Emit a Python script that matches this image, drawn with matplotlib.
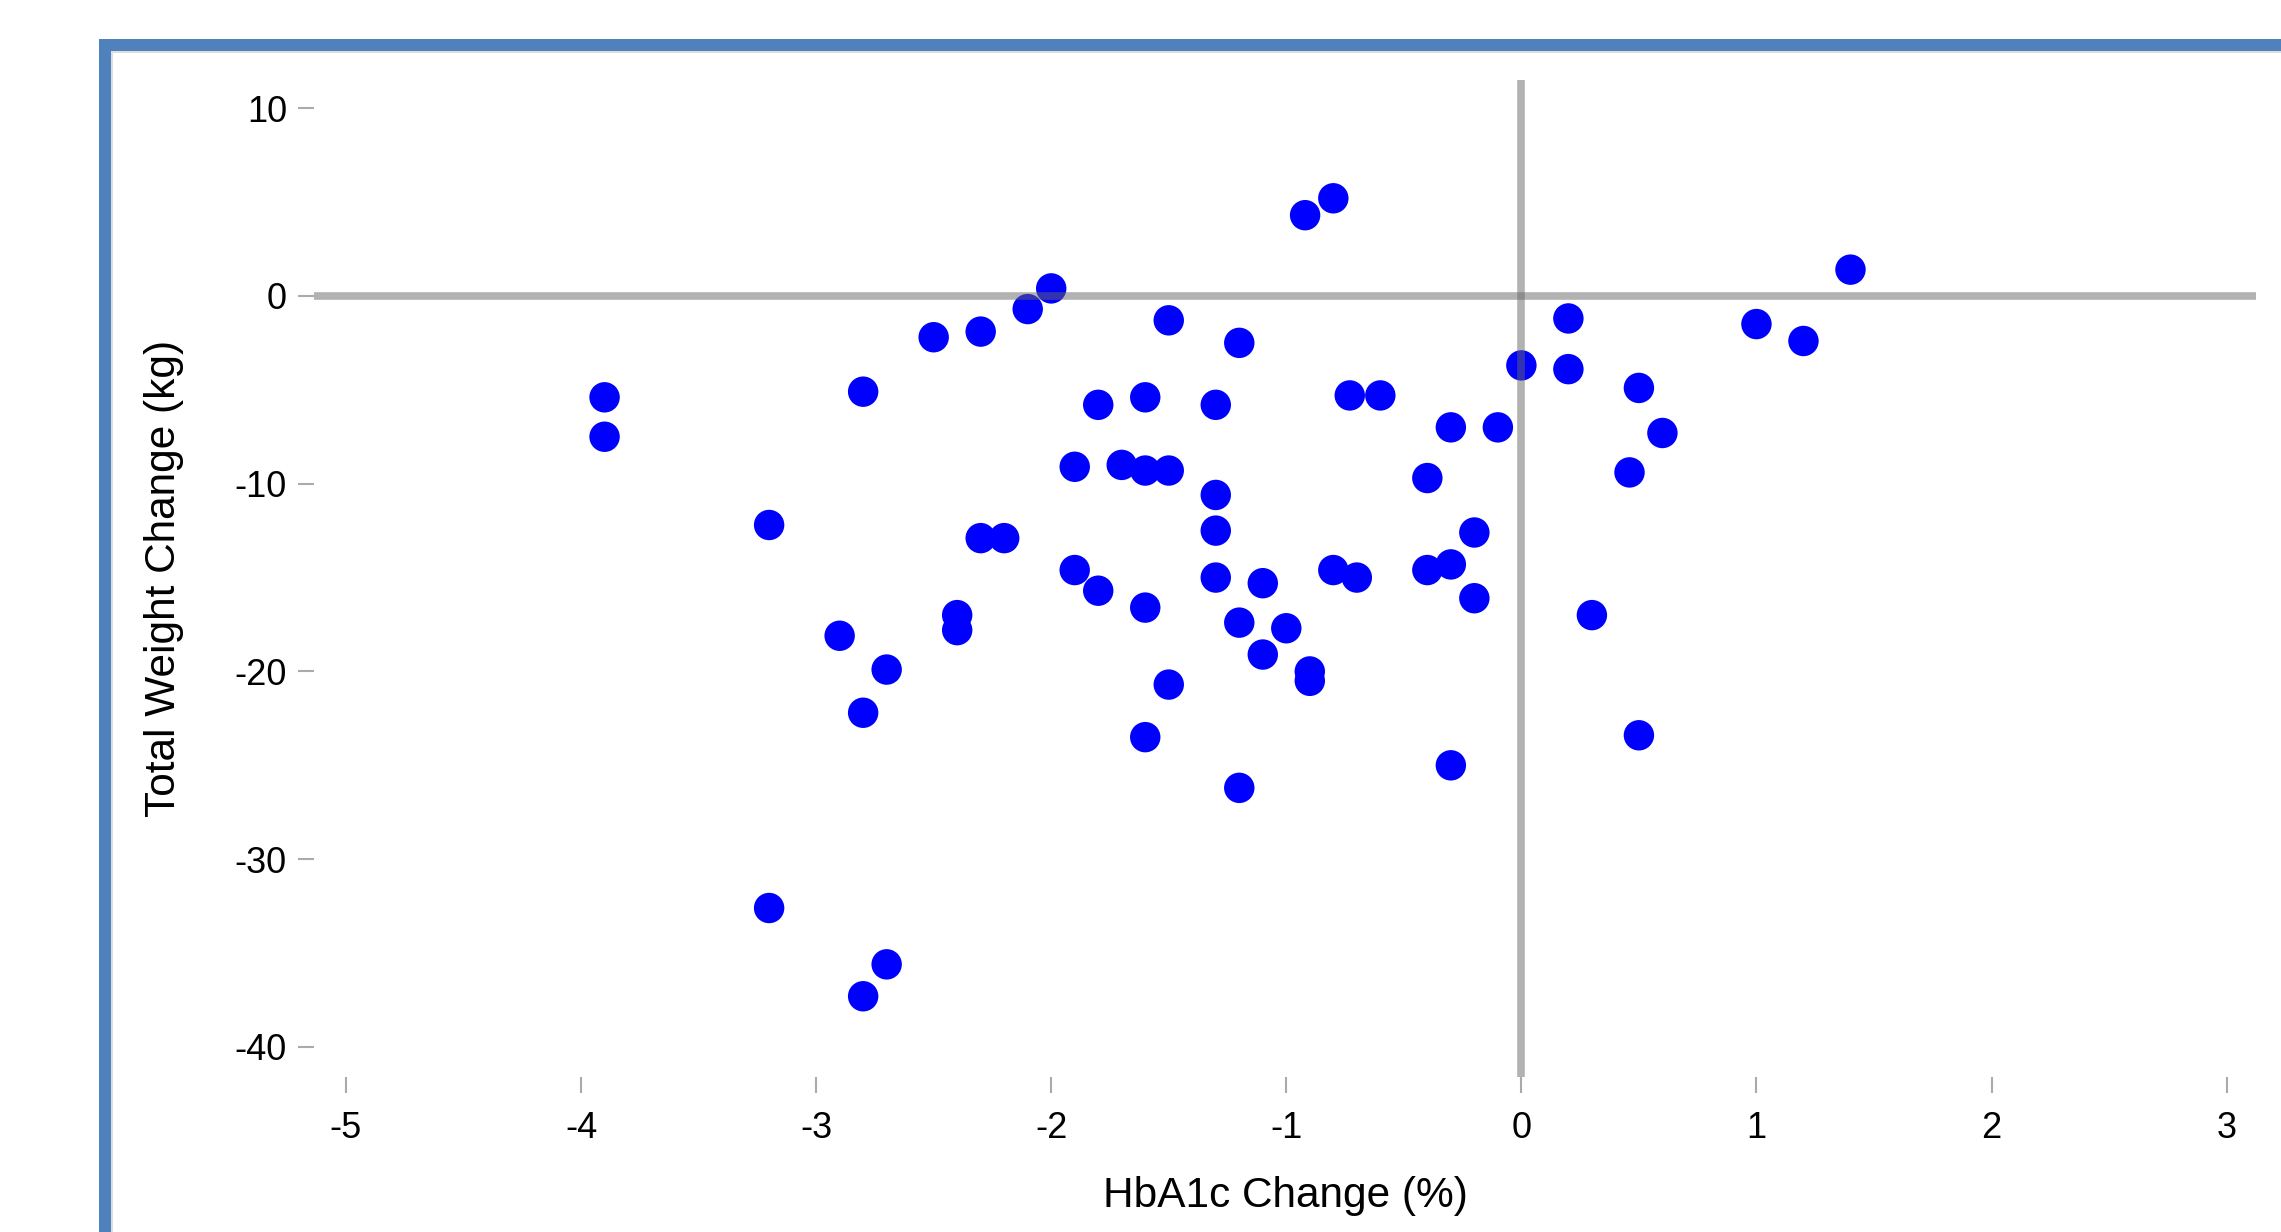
import matplotlib.pyplot as plt
from matplotlib.patches import Rectangle

# HbA1c change (%) vs total weight change (kg)
hba1c_change = [
    -3.9, -3.9, -3.2, -3.2, -2.9, -2.8, -2.8, -2.8, -2.7, -2.7,
    -2.5, -2.4, -2.4, -2.3, -2.3, -2.2, -2.1, -2.0, -1.9, -1.9,
    -1.8, -1.8, -1.7, -1.6, -1.6, -1.6, -1.6, -1.5, -1.5, -1.5,
    -1.3, -1.3, -1.3, -1.3, -1.2, -1.2, -1.2, -1.1, -1.1, -1.0,
    -0.92, -0.8, -0.9, -0.9, -0.8, -0.73, -0.7, -0.6, -0.4, -0.4,
    -0.3, -0.3, -0.3, -0.2, -0.2, -0.1, 0.0, 0.2, 0.2, 0.3,
    0.46, 0.5, 0.5, 0.6, 1.0, 1.2, 1.4,
]
weight_change = [
    -5.4, -7.5, -12.2, -32.6, -18.1, -5.1, -22.2, -37.3, -19.9, -35.6,
    -2.2, -17.0, -17.8, -1.9, -12.9, -12.9, -0.7, 0.4, -9.1, -14.6,
    -5.8, -15.7, -9.0, -5.4, -9.3, -16.6, -23.5, -1.3, -9.3, -20.7,
    -5.8, -10.6, -12.5, -15.0, -2.5, -17.4, -26.2, -15.3, -19.1, -17.7,
    4.3, 5.2, -20.0, -20.5, -14.6, -5.3, -15.0, -5.3, -9.7, -14.6,
    -7.0, -14.3, -25.0, -12.6, -16.1, -7.0, -3.7, -1.2, -3.9, -17.0,
    -9.4, -4.9, -23.4, -7.3, -1.5, -2.4, 1.4,
]
x_ticks = [-5, -4, -3, -2, -1, 0, 1, 2, 3]
y_ticks = [10, 0, -10, -20, -30, -40]

plt.rcParams['font.family'] = ['Liberation Sans', 'DejaVu Sans']
plt.rcParams['axes.unicode_minus'] = False

W, H = 2281, 1232
fig = plt.figure(figsize=(W / 100, H / 100), dpi=100)
fig.patch.set_facecolor('white')

# blue frame around the chart (runs off the right and bottom edges)
frame_blue = '#4f81bd'
fig.add_artist(Rectangle((99 / W, 0), 12 / W, (H - 39) / H,
                         transform=fig.transFigure, color=frame_blue, lw=0))
fig.add_artist(Rectangle((99 / W, (H - 51) / H), 1, 12 / H,
                         transform=fig.transFigure, color=frame_blue, lw=0))
fig.add_artist(Rectangle((111 / W, 0), 2 / W, (H - 51) / H,
                         transform=fig.transFigure, color='#dddddd', lw=0))
fig.add_artist(Rectangle((111 / W, (H - 53) / H), 1, 2 / H,
                         transform=fig.transFigure, color='#dddddd', lw=0))

ax = fig.add_axes([314 / W, 155 / H, (2256 - 314) / W, (1152 - 155) / H])
ax.scatter(hba1c_change, weight_change, s=480, color='#0000ff',
           edgecolors='none', zorder=2)
ax.axhline(0, color='#676767', alpha=0.5, lw=5.5, zorder=3)
ax.axvline(0, color='#676767', alpha=0.5, lw=5.5, zorder=3)

ax.set_xlim(-5.136, 3.125)
ax.set_ylim(-41.6, 11.5)
ax.set_xticks(x_ticks)
ax.set_yticks(y_ticks)
for s in ax.spines.values():
    s.set_visible(False)
ax.tick_params(axis='both', color='#aaaaaa', length=11.5, width=1.5,
               labelsize=26, labelcolor='black')
ax.tick_params(axis='x', pad=13)
ax.tick_params(axis='y', pad=8)

ax.set_xlabel('HbA1c Change (%)', fontsize=30.5)
ax.set_ylabel('Total Weight Change (kg)', fontsize=30.5)
ax.xaxis.label.set_va('center')
ax.yaxis.label.set_va('center')
ax.xaxis.set_label_coords(0.5, -0.119)
ax.yaxis.set_label_coords(-0.0772, 0.5)

fig.savefig('out.png', dpi=100)
